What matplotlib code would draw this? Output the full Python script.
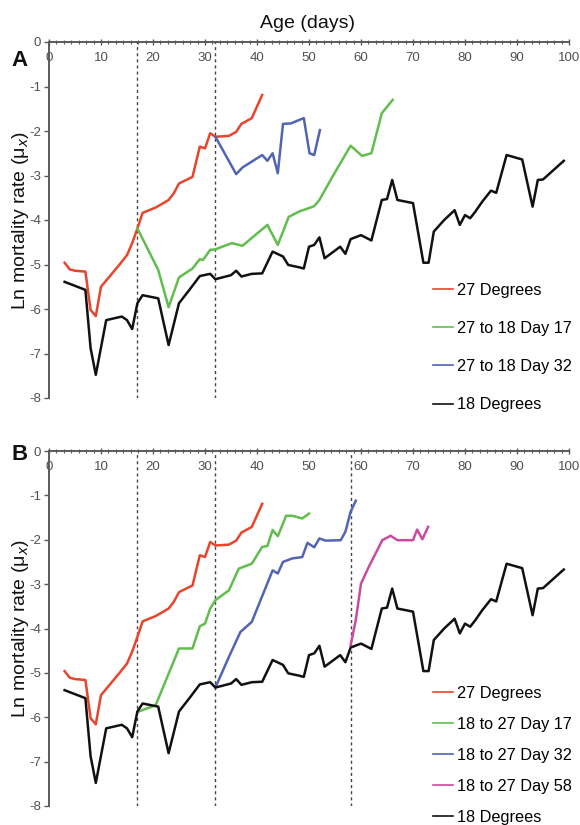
import matplotlib
matplotlib.use("Agg")
import matplotlib.pyplot as plt
from matplotlib.ticker import MultipleLocator

# ---------------- data ----------------
days_18 = [3, 7, 8, 9, 11, 14, 15, 16, 17, 18, 21, 23, 25, 27, 29, 31, 32, 35, 36, 37,
           39, 41, 43, 45, 46, 48, 49, 50, 51, 52, 53, 56, 57, 58, 60, 62, 64, 65, 66,
           67, 70, 72, 73, 74, 76, 78, 79, 80, 81, 82, 83.3, 85, 86, 88, 91, 93, 94, 95, 99]
mu_18 = [-5.39, -5.57, -6.88, -7.48, -6.25, -6.17, -6.25, -6.45, -5.87, -5.69, -5.76,
         -6.81, -5.87, -5.57, -5.26, -5.21, -5.33, -5.24, -5.14, -5.27, -5.21, -5.20,
         -4.71, -4.82, -5.01, -5.06, -5.09, -4.60, -4.56, -4.39, -4.86, -4.60, -4.76,
         -4.43, -4.34, -4.46, -3.55, -3.53, -3.10, -3.55, -3.62, -4.96, -4.96, -4.26,
         -4.00, -3.78, -4.11, -3.89, -3.96, -3.81, -3.59, -3.34, -3.39, -2.54, -2.64,
         -3.70, -3.10, -3.09, -2.67]

days_27 = [3, 4, 5, 7, 8, 9, 10, 11.5, 13.5, 15, 16, 17, 18, 20.5, 22, 23, 24, 25, 27.6,
           29, 30, 31, 32, 34.6, 36, 37, 39, 41]
mu_27 = [-4.96, -5.11, -5.14, -5.16, -6.02, -6.16, -5.50, -5.29, -5.01, -4.79, -4.52,
         -4.19, -3.84, -3.72, -3.62, -3.55, -3.40, -3.18, -3.03, -2.35, -2.39, -2.05,
         -2.13, -2.11, -2.02, -1.84, -1.71, -1.19]

# Panel A: 27 -> 18 shifts
days_A17 = [17, 21, 23, 25, 27.6, 29, 29.6, 31, 32, 33.3, 35.2, 37.2, 42, 44, 46.1, 48.1,
            51, 52, 54.5, 58, 60.2, 62, 64, 66.1]
mu_A17 = [-4.19, -5.12, -5.96, -5.29, -5.09, -4.88, -4.90, -4.67, -4.66, -4.60, -4.52,
          -4.58, -4.11, -4.56, -3.93, -3.81, -3.69, -3.55, -3.03, -2.33, -2.56, -2.50,
          -1.60, -1.30]

days_A32 = [32, 36, 37.2, 41, 42, 43, 44, 45, 46.5, 49, 50.1, 51, 52.1]
mu_A32 = [-2.13, -2.97, -2.82, -2.54, -2.67, -2.50, -2.95, -1.84, -1.83, -1.71, -2.50,
          -2.54, -1.98]

# Panel B: 18 -> 27 shifts
days_B17 = [17, 20.5, 25, 27.6, 29, 30, 31, 32, 34.6, 36.5, 39, 41, 42, 43, 44, 45.6,
            46.8, 48.7, 50]
mu_B17 = [-5.88, -5.73, -4.45, -4.45, -3.95, -3.89, -3.55, -3.36, -3.14, -2.65, -2.54,
          -2.16, -2.14, -1.78, -1.92, -1.46, -1.46, -1.52, -1.41]

days_B32 = [32, 34.6, 36.8, 39, 43, 44, 45, 46.8, 48.7, 49.7, 51, 52, 53.2, 56.1, 57, 58, 59]
mu_B32 = [-5.33, -4.64, -4.08, -3.85, -2.69, -2.76, -2.50, -2.42, -2.39, -2.07, -2.17,
          -1.97, -2.02, -2.01, -1.82, -1.37, -1.12]

days_B58 = [58, 59, 60, 61.5, 64.1, 65.7, 67, 70, 70.8, 71.8, 72.9]
mu_B58 = [-4.38, -3.81, -2.99, -2.61, -2.01, -1.91, -2.01, -2.01, -1.77, -1.99, -1.71]

shift_days_A = [17, 32]
shift_days_B = [17, 32, 58]

labels_A = ["27 Degrees", "27 to 18 Day 17", "27 to 18 Day 32", "18 Degrees"]
labels_B = ["27 Degrees", "18 to 27 Day 17", "18 to 27 Day 32", "18 to 27 Day 58",
            "18 Degrees"]
x_ticks = [0, 10, 20, 30, 40, 50, 60, 70, 80, 90, 100]
y_ticks = [0, -1, -2, -3, -4, -5, -6, -7, -8]

# ---------------- style ----------------
RED = "#e8452c"
GREEN = "#62bd4f"
BLUE = "#5264b4"
MAGENTA = "#c94c9f"
BLACK = "#111111"
SPINE = "#5a5a5a"
TICKTXT = "#505050"
LW = 1.8

plt.rcParams["font.family"] = ["Liberation Sans", "DejaVu Sans"]

W, H = 580, 825
fig = plt.figure(figsize=(W / 100, H / 100), dpi=100)


def px_axes(x0, y_top, x1, y_bot):
    return [x0 / W, 1 - y_bot / H, (x1 - x0) / W, (y_bot - y_top) / H]


axA = fig.add_axes(px_axes(49, 42, 569, 398))
axB = fig.add_axes(px_axes(49, 451, 569, 806))


def style_axes(ax):
    ax.set_xlim(0, 100)
    ax.set_ylim(-8, 0)
    ax.spines["right"].set_visible(False)
    ax.spines["bottom"].set_visible(False)
    for s in ("left", "top"):
        ax.spines[s].set_color(SPINE)
        ax.spines[s].set_linewidth(1.4)
    ax.xaxis.tick_top()
    ax.set_xticks(x_ticks)
    ax.xaxis.set_minor_locator(MultipleLocator(10 / 7))
    ax.tick_params(axis="x", which="major", direction="inout", length=4, width=1,
                   color=SPINE, labelsize=9.5, labelcolor=TICKTXT, pad=-18)
    ax.tick_params(axis="x", which="minor", direction="inout", length=3, width=0.8,
                   color=SPINE)
    ax.set_yticks(y_ticks)
    ax.set_yticklabels([str(v) for v in y_ticks])
    ax.tick_params(axis="y", which="major", direction="out", length=3.5, width=1,
                   color=SPINE, labelsize=9.5, labelcolor=TICKTXT, pad=2)
    ax.set_ylabel("Ln mortality rate (μ$_x$)", fontsize=14, color="#111111")
    ax.yaxis.set_label_coords(-0.035, 0.5)
    ax.patch.set_alpha(0)


style_axes(axA)
style_axes(axB)

# Panel A
for d in shift_days_A:
    axA.axvline(d, ymin=0, ymax=1, color="#444444", lw=1.0, ls=(0, (2.2, 2.2)), zorder=1)
lA = []
lA += axA.plot(days_27, mu_27, color=RED, lw=LW)
lA += axA.plot(days_A17, mu_A17, color=GREEN, lw=LW)
lA += axA.plot(days_A32, mu_A32, color=BLUE, lw=LW)
lA += axA.plot(days_18, mu_18, color=BLACK, lw=LW)

# Panel B
for d in shift_days_B:
    axB.axvline(d, ymin=0, ymax=1, color="#444444", lw=1.0, ls=(0, (2.2, 2.2)), zorder=1)
lB = []
lB += axB.plot(days_27, mu_27, color=RED, lw=LW)
lB += axB.plot(days_B17, mu_B17, color=GREEN, lw=LW)
lB += axB.plot(days_B32, mu_B32, color=BLUE, lw=LW)
lB += axB.plot(days_B58, mu_B58, color=MAGENTA, lw=LW)
lB += axB.plot(days_18, mu_18, color=BLACK, lw=LW)

legA = fig.legend(lA, labels_A, loc="upper left",
                  bbox_to_anchor=(433 / W, 1 - 283 / H), frameon=False,
                  fontsize=11.7, handlelength=1.2, handletextpad=0.25,
                  labelspacing=1.42, borderpad=0, borderaxespad=0)
for h in legA.get_lines():
    h.set_linewidth(1.2)
legB = fig.legend(lB, labels_B, loc="upper left",
                  bbox_to_anchor=(433 / W, 1 - 686 / H), frameon=False,
                  fontsize=11.7, handlelength=1.2, handletextpad=0.25,
                  labelspacing=0.98, borderpad=0, borderaxespad=0)
for h in legB.get_lines():
    h.set_linewidth(1.2)

fig.text(308 / W, 1 - 24 / H, "Age (days)", ha="center", va="center", fontsize=14,
         color="#111111")
fig.text(20 / W, 1 - 61 / H, "A", ha="center", va="center", fontsize=16,
         fontweight="bold", color="#111111")
fig.text(20 / W, 1 - 455 / H, "B", ha="center", va="center", fontsize=16,
         fontweight="bold", color="#111111")

fig.savefig("out.png", dpi=100)
